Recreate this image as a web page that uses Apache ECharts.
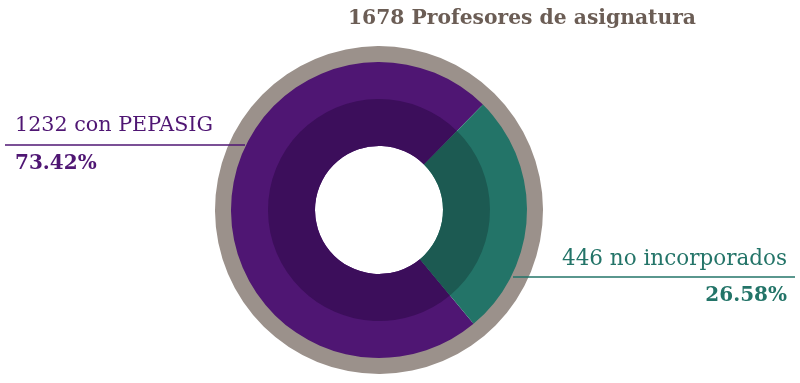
<!DOCTYPE html>
<html>
<head>
<meta charset="utf-8">
<script src="https://cdn.jsdelivr.net/npm/echarts@6/dist/echarts.min.js"></script>
<style>html,body{margin:0;padding:0;background:#fff}#c{width:800px;height:383px}</style>
</head>
<body>
<div id="c"></div>
<script>
const titleText = '1678 Profesores de asignatura';
const categories = ['con PEPASIG', 'no incorporados'];
const values = [1232, 446];
const mainColors = ['#4f1673', '#237468'];
const innerColors = ['#3c0e5b', '#1c5a52'];
const ringColor = '#9b918b';

const total = values.reduce((a, b) => a + b, 0);
const pct = values.map(v => (v / total * 100).toFixed(2) + '%');
const FONT = '"DejaVu Serif", serif';

function pieSeries(radius, data, z) {
  return {
    type: 'pie', center: [379, 210], radius: radius, z: z,
    startAngle: 45.4, clockwise: false, silent: true, animation: false,
    label: { show: false }, labelLine: { show: false },
    itemStyle: { borderWidth: 0 },
    data: data
  };
}
const mainData = categories.map((c, i) => ({ name: c, value: values[i], itemStyle: { color: mainColors[i], borderWidth: 0 } }));
const innerData = categories.map((c, i) => ({ name: c, value: values[i], itemStyle: { color: innerColors[i], borderWidth: 0 } }));
const ringData = [{ name: 'total', value: total, itemStyle: { color: ringColor, borderWidth: 0 } }];

const chart = echarts.init(document.getElementById('c'));
chart.setOption({
  backgroundColor: '#fff',
  title: {
    text: titleText, left: 517, top: 4, textAlign: 'center',
    textStyle: { fontFamily: FONT, fontWeight: 'bold', fontSize: 20.3, color: '#6b5d55' }
  },
  series: [
    pieSeries([146, 164], ringData, 1),
    pieSeries([64, 148], mainData, 2),
    pieSeries([64, 111], innerData, 3)
  ],
  graphic: [
    { type: 'line', z: 10, shape: { x1: 5, y1: 145, x2: 245, y2: 145 }, style: { stroke: mainColors[0], lineWidth: 1.5 } },
    { type: 'text', z: 10, style: { x: 15, y: 126, text: values[0] + ' ' + categories[0], font: '20.7px ' + FONT, fill: mainColors[0], textVerticalAlign: 'middle' } },
    { type: 'text', z: 10, style: { x: 15, y: 164, text: pct[0], font: 'bold 20px ' + FONT, fill: mainColors[0], textVerticalAlign: 'middle' } },
    { type: 'line', z: 10, shape: { x1: 513, y1: 277, x2: 795, y2: 277 }, style: { stroke: mainColors[1], lineWidth: 1.5 } },
    { type: 'text', z: 10, style: { x: 787, y: 259, text: values[1] + ' ' + categories[1], font: '21.5px ' + FONT, fill: mainColors[1], textAlign: 'right', textVerticalAlign: 'middle' } },
    { type: 'text', z: 10, style: { x: 787, y: 296, text: pct[1], font: 'bold 20px ' + FONT, fill: mainColors[1], textAlign: 'right', textVerticalAlign: 'middle' } }
  ]
});
</script>
</body>
</html>
